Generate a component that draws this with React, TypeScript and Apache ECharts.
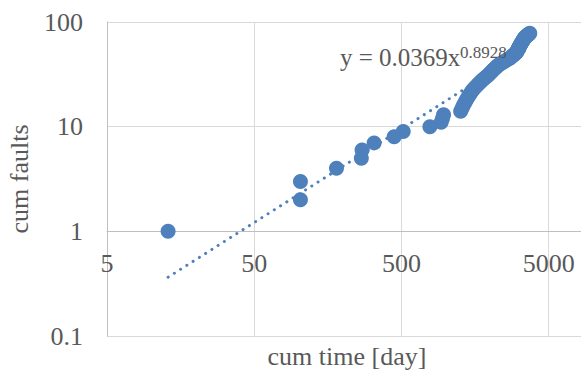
import React, { useEffect, useRef } from "react";
import * as echarts from "echarts";

// cumulative time [day] at which each fault was observed
const CUM_TIME = [
  13, 103, 103, 181, 267, 270, 326, 446, 514, 780,
  930, 950, 966, 1262, 1290, 1318, 1350, 1378, 1410, 1444,
  1476, 1510, 1552, 1596, 1640, 1686, 1734, 1782, 1834, 1886,
  1940, 1982, 2022, 2066, 2108, 2152, 2198, 2244, 2292, 2360,
  2428, 2496, 2570, 2646, 2722, 2770, 2820, 2870, 2920, 2970,
  3020, 3040, 3060, 3078, 3098, 3118, 3138, 3160, 3180, 3200,
  3220, 3242, 3264, 3286, 3308, 3330, 3352, 3374, 3396, 3418,
  3440, 3478, 3518, 3558, 3598, 3638, 3680, 3720,
];
// cumulative number of faults
const CUM_FAULTS = [
  1, 2, 3, 4, 5, 6, 7, 8, 9, 10,
  11, 12, 13, 14, 15, 16, 17, 18, 19, 20,
  21, 22, 23, 24, 25, 26, 27, 28, 29, 30,
  31, 32, 33, 34, 35, 36, 37, 38, 39, 40,
  41, 42, 43, 44, 45, 46, 47, 48, 49, 50,
  51, 52, 53, 54, 55, 56, 57, 58, 59, 60,
  61, 62, 63, 64, 65, 66, 67, 68, 69, 70,
  71, 72, 73, 74, 75, 76, 77, 78,
];

const X_MIN = 5;
const X_MAX = 10000;
const Y_MIN = 0.1;
const Y_MAX = 100;

// power trendline y = a * x^b
const TREND_COEF = 0.0369;
const TREND_EXP = 0.8928;
const TREND_TEXT = "y = 0.0369x";
const TREND_SUP = "0.8928";

const X_TITLE = "cum time [day]";
const Y_TITLE = "cum faults";

const FONT = "'Liberation Serif', 'Times New Roman', serif";
const BLUE = "#4E80BC";
const TEXT = "#595959";

const toX = (v: number) => Math.log10(v / X_MIN);

export default function App() {
  const ref = useRef<HTMLDivElement>(null);

  useEffect(() => {
    if (!ref.current) return;
    const chart = echarts.init(ref.current, undefined, { renderer: "svg" });

    const points = CUM_TIME.map((t, i) => [toX(t), CUM_FAULTS[i]]);
    const tFirst = CUM_TIME[0];
    const tLast = CUM_TIME[CUM_TIME.length - 1];
    const trend = [
      [toX(tFirst), TREND_COEF * Math.pow(tFirst, TREND_EXP)],
      [toX(tLast), TREND_COEF * Math.pow(tLast, TREND_EXP)],
    ];

    const gridTop = 22;
    const gridBottom = 36;
    const gridH = 372 - gridTop - gridBottom;
    const decade = gridH / Math.log10(Y_MAX / Y_MIN);
    const xAxisOffset = -decade * Math.log10(1 / Y_MIN);

    chart.setOption({
      animation: false,
      grid: {
        left: 107,
        right: -12,
        top: gridTop,
        bottom: gridBottom,
        containLabel: false,
        outerBoundsMode: "none",
      },
      xAxis: {
        type: "value",
        min: 0,
        max: toX(X_MAX),
        interval: 1,
        position: "bottom",
        offset: xAxisOffset,
        axisLine: { show: true, onZero: false, lineStyle: { color: "#bfbfbf", width: 1 } },
        axisTick: { show: false },
        axisLabel: {
          margin: 19,
          fontSize: 26,
          fontFamily: FONT,
          color: TEXT,
          showMaxLabel: false,
          formatter: (v: number) => {
            if (Math.abs(v - Math.round(v)) > 1e-6) return "";
            return String(Math.round(X_MIN * Math.pow(10, v)));
          },
        },
        splitLine: { show: true, lineStyle: { color: "#d9d9d9", width: 1 } },
      },
      yAxis: {
        type: "log",
        logBase: 10,
        min: Y_MIN,
        max: Y_MAX,
        axisLine: { show: true, lineStyle: { color: "#bfbfbf", width: 1 } },
        axisTick: { show: false },
        axisLabel: {
          margin: 24,
          fontSize: 26,
          fontFamily: FONT,
          color: TEXT,
          formatter: (v: number) => String(parseFloat(v.toPrecision(3))),
        },
        splitLine: { show: true, lineStyle: { color: "#d9d9d9", width: 1 } },
      },
      series: [
        {
          type: "line",
          data: trend,
          symbol: "none",
          silent: true,
          z: 1,
          lineStyle: { color: BLUE, width: 3, type: [0.1, 7.3], cap: "round" },
        },
        {
          type: "scatter",
          data: points,
          symbol: "circle",
          symbolSize: 15,
          z: 2,
          itemStyle: { color: BLUE, opacity: 1 },
        },
      ],
      graphic: [
        {
          type: "text",
          x: 340,
          y: 57,
          z: 10,
          style: { text: TREND_TEXT, fontSize: 25, fontFamily: FONT, fill: TEXT, align: "left", verticalAlign: "middle" },
        },
        {
          type: "text",
          x: 460,
          y: 52,
          z: 10,
          style: { text: TREND_SUP, fontSize: 17, fontFamily: FONT, fill: TEXT, align: "left", verticalAlign: "middle" },
        },
        {
          type: "text",
          x: 347,
          y: 356,
          style: { text: X_TITLE, fontSize: 26, fontFamily: FONT, fill: TEXT, align: "center", verticalAlign: "middle" },
        },
        {
          type: "text",
          x: 19,
          y: 179,
          rotation: Math.PI / 2,
          style: { text: Y_TITLE, fontSize: 26, fontFamily: FONT, fill: TEXT, align: "center", verticalAlign: "middle" },
        },
      ],
    });

    return () => chart.dispose();
  }, []);

  return (
    <div
      ref={ref}
      style={{ position: "fixed", left: 0, top: 0, width: 581, height: 372, background: "#fff" }}
    />
  );
}
